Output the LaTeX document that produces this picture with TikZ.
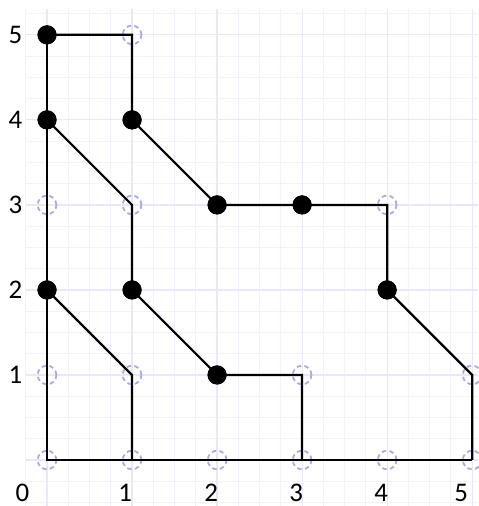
\documentclass[tikz,border=0pt]{standalone}
\usepackage{fontspec}
\setmainfont{Carlito}
\definecolor{holec}{RGB}{170,170,225}
\definecolor{gridminor}{RGB}{242,242,252}
\definecolor{gridmajor}{RGB}{232,232,248}
\begin{document}
\begin{tikzpicture}[x=1cm,y=1cm,
  dot/.style={circle,fill=black,draw=black,inner sep=0pt,minimum size=0.21cm},
  hole/.style={circle,draw=holec,line width=0.6pt,dash pattern=on 1.5pt off 1.1pt,inner sep=0pt,minimum size=0.22cm},
  edge/.style={line width=0.75pt,black},
  lbl/.style={font=\fontsize{9}{10}\selectfont,inner sep=0pt}]
\useasboundingbox (-0.553,-0.541) rectangle (5.07,5.41);
\draw[gridminor,line width=0.3pt] (-0.25,-0.54) grid[step=0.25] (5.07,5.3);
\draw[gridmajor,line width=0.4pt] (-0.25,-0.54) grid[step=1] (5.07,5.3);
% points
\node[dot] (p05) at (0,5) {};
\node[hole] (p15) at (1,5) {};
\node[dot] (p04) at (0,4) {};
\node[dot] (p14) at (1,4) {};
\node[hole] (p03) at (0,3) {};
\node[hole] (p13) at (1,3) {};
\node[dot] (p23) at (2,3) {};
\node[dot] (p33) at (3,3) {};
\node[hole] (p43) at (4,3) {};
\node[dot] (p02) at (0,2) {};
\node[dot] (p12) at (1,2) {};
\node[dot] (p42) at (4,2) {};
\node[hole] (p01) at (0,1) {};
\node[hole] (p11) at (1,1) {};
\node[dot] (p21) at (2,1) {};
\node[hole] (p31) at (3,1) {};
\node[hole] (p51) at (5,1) {};
\node[hole] (p00) at (0,0) {};
\node[hole] (p10) at (1,0) {};
\node[hole] (p20) at (2,0) {};
\node[hole] (p30) at (3,0) {};
\node[hole] (p40) at (4,0) {};
\node[hole] (p50) at (5,0) {};
% edges
\draw[edge] (p05.center) -- (p15.center) -- (p14.center) -- (p23.center) -- (p33.center) -- (p43.center) -- (p42.center) -- (p51.center) -- (p50.center);
\draw[edge] (p05.center) -- (p04.center) -- (p03.center) -- (p02.center) -- (p01.center) -- (p00.center) -- (p10.center) -- (p20.center) -- (p30.center) -- (p40.center) -- (p50.center);
\draw[edge] (p04.center) -- (p13.center) -- (p12.center) -- (p21.center) -- (p31.center) -- (p30.center);
\draw[edge] (p02.center) -- (p11.center) -- (p10.center);
% redraw dots on top
\foreach \n/\p in {a/{(0,5)},b/{(0,4)},c/{(1,4)},d/{(2,3)},e/{(3,3)},f/{(0,2)},g/{(1,2)},h/{(4,2)},i/{(2,1)}}
  \node[dot] (top\n) at \p {};
% labels
\node[lbl] (ly5) at (-0.37,5) {5};
\node[lbl] (ly4) at (-0.37,4) {4};
\node[lbl] (ly3) at (-0.37,3) {3};
\node[lbl] (ly2) at (-0.37,2) {2};
\node[lbl] (ly1) at (-0.37,1) {1};
\node[lbl] (lx0) at (-0.29,-0.39) {0};
\node[lbl] (lx1) at (0.92,-0.39) {1};
\node[lbl] (lx2) at (1.93,-0.39) {2};
\node[lbl] (lx3) at (2.93,-0.39) {3};
\node[lbl] (lx4) at (3.93,-0.39) {4};
\node[lbl] (lx5) at (4.87,-0.39) {5};
\end{tikzpicture}
\end{document}
